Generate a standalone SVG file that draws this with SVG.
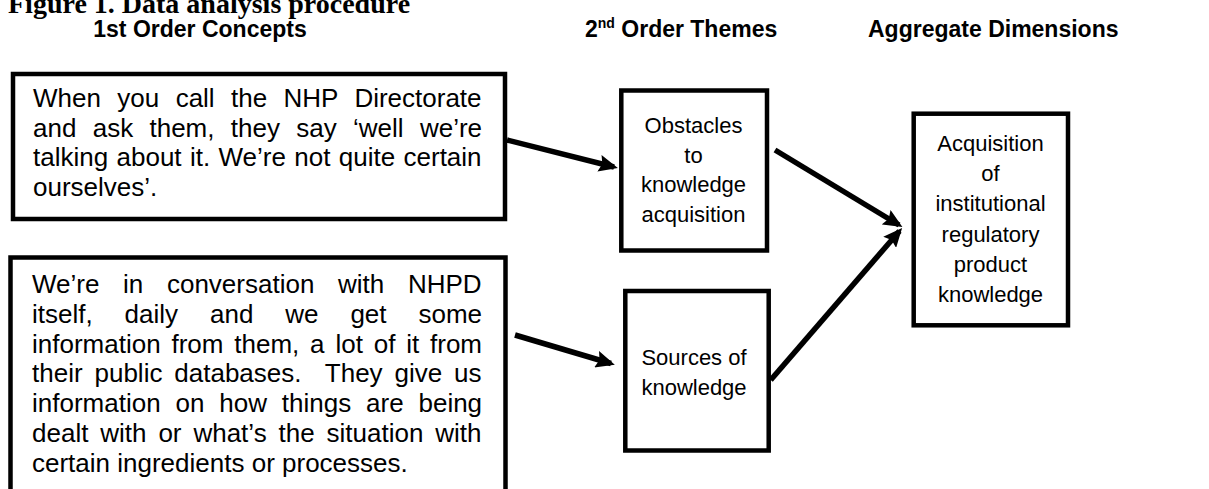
<svg xmlns="http://www.w3.org/2000/svg" width="1209" height="489" viewBox="0 0 1209 489">
<style>
.box{fill:#fff;stroke:#000;stroke-width:4.5;stroke-linejoin:miter}
.body{font-family:"Liberation Sans",Arial,sans-serif;font-size:26px;fill:#000;white-space:pre}
.hdr{font-family:"Liberation Sans",Arial,sans-serif;font-size:23px;font-weight:bold;fill:#000}
.title{font-family:"Liberation Serif","Times New Roman",serif;font-size:28px;font-weight:bold;fill:#000}
.mid{font-family:"Liberation Sans",Arial,sans-serif;font-size:22px;fill:#000;text-anchor:middle}
.conn{stroke:#000;stroke-width:5.5;fill:none;marker-end:url(#ah)}
</style>
<defs>
<marker id="ah" markerUnits="userSpaceOnUse" viewBox="0 0 19 17" markerWidth="19" markerHeight="17" refX="15" refY="8.5" orient="auto">
<path d="M0,0 L19,8.5 L0,17 L3,8.5 Z" fill="#000"/>
</marker>
</defs>
<rect width="1209" height="489" fill="#fff"/>
<g id="title">
<text class="title" x="8" y="12.5">Figure 1. Data analysis procedure</text>
</g>
<g id="headers">
<text class="hdr" x="200" y="36.5" text-anchor="middle">1st Order Concepts</text>
<text class="hdr" x="585" y="36.5">2<tspan font-size="14" dy="-9">nd</tspan><tspan dy="9"> Order Themes</tspan></text>
<text class="hdr" x="868" y="36.5">Aggregate Dimensions</text>
</g>
<g id="concept1">
<rect class="box" x="13" y="74" width="492" height="145"/>
<text class="body" x="33" y="107" word-spacing="9.17">When you call the NHP Directorate</text>
<text class="body" x="33" y="136.5" word-spacing="9.09">and ask them, they say ‘well we’re</text>
<text class="body" x="33" y="166" word-spacing="1.13">talking about it. We’re not quite certain</text>
<text class="body" x="33" y="195.5">ourselves’.</text>
</g>
<g id="concept2">
<rect class="box" x="10.5" y="257.5" width="495" height="260"/>
<text class="body" x="32" y="293" word-spacing="16.42">We’re in conversation with NHPD</text>
<text class="body" x="32" y="322.8" word-spacing="24.68">itself, daily and we get some</text>
<text class="body" x="32" y="352.6" word-spacing="3.6">information from them, a lot of it from</text>
<text class="body" x="32" y="382.4" word-spacing="4.67">their public databases.  They give us</text>
<text class="body" x="32" y="412.2" word-spacing="7.63">information on how things are being</text>
<text class="body" x="32" y="442" word-spacing="4.67">dealt with or what’s the situation with</text>
<text class="body" x="32" y="471.8">certain ingredients or processes.</text>
</g>
<g id="theme1">
<rect class="box" x="621.3" y="90.5" width="145.7" height="160"/>
<text class="mid" x="693.5" y="132.7">Obstacles</text>
<text class="mid" x="693.5" y="162.5">to</text>
<text class="mid" x="693.5" y="192.3">knowledge</text>
<text class="mid" x="693.5" y="222.1">acquisition</text>
</g>
<g id="theme2">
<rect class="box" x="625.3" y="291" width="143.4" height="159.5"/>
<text class="mid" x="694" y="365">Sources of</text>
<text class="mid" x="694" y="395">knowledge</text>
</g>
<g id="dimension">
<rect class="box" x="913.7" y="113.7" width="154.3" height="211.6"/>
<text class="mid" x="990.5" y="150.7">Acquisition</text>
<text class="mid" x="990.5" y="181">of</text>
<text class="mid" x="990.5" y="211.4">institutional</text>
<text class="mid" x="990.5" y="241.7">regulatory</text>
<text class="mid" x="990.5" y="272">product</text>
<text class="mid" x="990.5" y="302.4">knowledge</text>
</g>
<g id="connectors">
<line class="conn" x1="507" y1="140" x2="614" y2="167"/>
<line class="conn" x1="515" y1="335" x2="611" y2="363.5"/>
<line class="conn" x1="775" y1="150" x2="899" y2="225"/>
<line class="conn" x1="770.7" y1="380" x2="899.5" y2="231"/>
</g>
</svg>
